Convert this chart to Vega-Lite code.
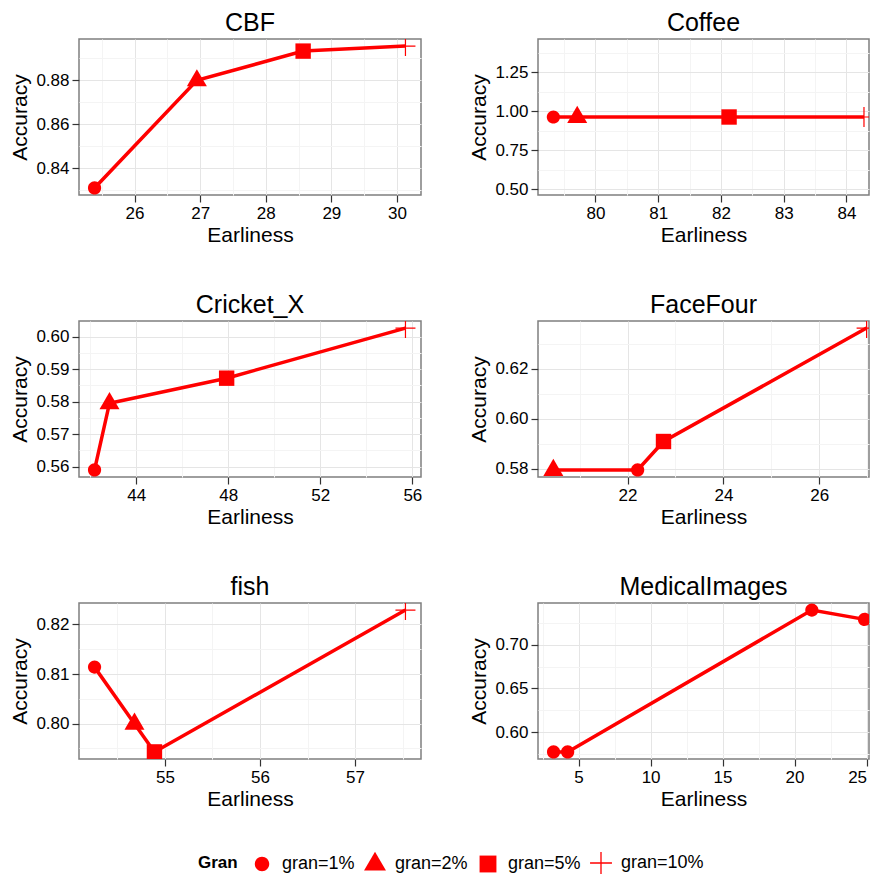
{
  "$schema": "https://vega.github.io/schema/vega-lite/v6.json",
  "background": "white",
  "padding": {"left": 9, "top": 10, "right": 0, "bottom": 0},
  "data": {"values": [
    {"dataset": "CBF", "Gran": "gran=1%", "Earliness": 25.39, "Accuracy": 0.8311},
    {"dataset": "CBF", "Gran": "gran=2%", "Earliness": 26.95, "Accuracy": 0.88},
    {"dataset": "CBF", "Gran": "gran=5%", "Earliness": 28.57, "Accuracy": 0.8933},
    {"dataset": "CBF", "Gran": "gran=10%", "Earliness": 30.13, "Accuracy": 0.8956},
    {"dataset": "Coffee", "Gran": "gran=1%", "Earliness": 79.33, "Accuracy": 0.9643},
    {"dataset": "Coffee", "Gran": "gran=2%", "Earliness": 79.71, "Accuracy": 0.9643},
    {"dataset": "Coffee", "Gran": "gran=5%", "Earliness": 82.13, "Accuracy": 0.9643},
    {"dataset": "Coffee", "Gran": "gran=10%", "Earliness": 84.28, "Accuracy": 0.9643},
    {"dataset": "Cricket_X", "Gran": "gran=1%", "Earliness": 42.19, "Accuracy": 0.559},
    {"dataset": "Cricket_X", "Gran": "gran=2%", "Earliness": 42.84, "Accuracy": 0.5795},
    {"dataset": "Cricket_X", "Gran": "gran=5%", "Earliness": 47.93, "Accuracy": 0.5872},
    {"dataset": "Cricket_X", "Gran": "gran=10%", "Earliness": 55.7, "Accuracy": 0.6026},
    {"dataset": "FaceFour", "Gran": "gran=1%", "Earliness": 22.21, "Accuracy": 0.5795},
    {"dataset": "FaceFour", "Gran": "gran=2%", "Earliness": 20.45, "Accuracy": 0.5795},
    {"dataset": "FaceFour", "Gran": "gran=5%", "Earliness": 22.75, "Accuracy": 0.5909},
    {"dataset": "FaceFour", "Gran": "gran=10%", "Earliness": 26.99, "Accuracy": 0.6364},
    {"dataset": "fish", "Gran": "gran=1%", "Earliness": 54.26, "Accuracy": 0.8114},
    {"dataset": "fish", "Gran": "gran=2%", "Earliness": 54.68, "Accuracy": 0.8},
    {"dataset": "fish", "Gran": "gran=5%", "Earliness": 54.89, "Accuracy": 0.7943},
    {"dataset": "fish", "Gran": "gran=10%", "Earliness": 57.53, "Accuracy": 0.8229},
    {"dataset": "MedicalImages", "Gran": "gran=1%", "Earliness": 3.26, "Accuracy": 0.5776},
    {"dataset": "MedicalImages", "Gran": "gran=1%", "Earliness": 4.24, "Accuracy": 0.5776},
    {"dataset": "MedicalImages", "Gran": "gran=1%", "Earliness": 21.2, "Accuracy": 0.7395},
    {"dataset": "MedicalImages", "Gran": "gran=1%", "Earliness": 24.86, "Accuracy": 0.7289}
  ]},
  "config": {
    "font": "Liberation Sans",
    "view": {"stroke": "#7F7F7F", "strokeWidth": 1.5},
    "title": {"fontSize": 25, "fontWeight": "normal", "color": "black", "offset": 3},
    "axis": {"domain": false, "tickColor": "#333333", "tickSize": 7, "tickWidth": 1.2, "labelFontSize": 17, "labelColor": "black", "titleFontSize": 21, "titleFontWeight": "normal", "titleColor": "black", "labelPadding": 3, "gridWidth": 1},
    "axisX": {"titlePadding": 3},
    "axisY": {"titlePadding": 5},
    "legend": {"padding": 0}
  },
  "columns": 2,
  "bounds": "flush",
  "spacing": {"row": 126, "column": 117},
  "resolve": {"scale": {"x": "independent", "y": "independent"}},
  "concat": [
    {
      "title": "CBF", "width": 342, "height": 156,
      "transform": [{"filter": "datum.dataset === 'CBF'"}],
      "encoding": {
        "x": {"field": "Earliness", "type": "quantitative", "scale": {"domain": [25.153, 30.367], "nice": false, "zero": false},
          "axis": {"title": "Earliness", "format": ".0f", "values": [25.5,26,26.5,27,27.5,28,28.5,29,29.5,30],
            "labelExpr": "indexof([26,27,28,29,30], datum.value) >= 0 ? datum.label : ''",
            "gridColor": {"condition": {"test": "indexof([26,27,28,29,30], datum.value) < 0", "value": "#F4F4F4"}, "value": "#E5E5E5"},
            "tickOpacity": {"condition": {"test": "indexof([26,27,28,29,30], datum.value) < 0", "value": 0}, "value": 1}}},
        "y": {"field": "Accuracy", "type": "quantitative", "scale": {"domain": [0.8279, 0.8988], "nice": false, "zero": false},
          "axis": {"title": "Accuracy", "format": ".2f", "values": [0.83,0.84,0.85,0.86,0.87,0.88,0.89],
            "labelExpr": "indexof([0.84,0.86,0.88], datum.value) >= 0 ? datum.label : ''",
            "gridColor": {"condition": {"test": "indexof([0.84,0.86,0.88], datum.value) < 0", "value": "#F4F4F4"}, "value": "#E5E5E5"},
            "tickOpacity": {"condition": {"test": "indexof([0.84,0.86,0.88], datum.value) < 0", "value": 0}, "value": 1}}}
      },
      "layer": [
        {"mark": {"type": "line", "color": "#FF0000", "strokeWidth": 3.5, "clip": true}},
        {"mark": {"type": "point", "filled": true, "color": "#FF0000", "strokeWidth": 0, "size": 400, "opacity": 1, "clip": true},
         "encoding": {"shape": {"field": "Gran", "type": "nominal",
           "scale": {"domain": ["gran=1%","gran=2%","gran=5%","gran=10%"], "range": ["M0.66,0A0.66,0.66,0,1,1,-0.66,0A0.66,0.66,0,1,1,0.66,0Z","M0,-1.12L1,0.6L-1,0.6Z","M-0.77,-0.77H0.77V0.77H-0.77Z","M-1,-0.06H1V0.06H-1ZM-0.06,-1H0.06V1H-0.06Z"]},
           "legend": {"title": "Gran", "orient": "none", "legendX": 119, "legendY": 813, "direction": "horizontal", "titleOrient": "left", "titleFontWeight": "bold", "titleFontSize": 17, "titleColor": "black", "labelFontSize": 18, "labelColor": "black", "symbolSize": 480, "symbolFillColor": "#FF0000", "symbolStrokeWidth": 0, "labelOffset": 9, "columnPadding": 9, "titlePadding": 13}}}}
      ]
    },
    {
      "title": "Coffee", "width": 331, "height": 156,
      "transform": [{"filter": "datum.dataset === 'Coffee'"}],
      "encoding": {
        "x": {"field": "Earliness", "type": "quantitative", "scale": {"domain": [79.085, 84.36], "nice": false, "zero": false},
          "axis": {"title": "Earliness", "format": ".0f", "values": [79.5,80,80.5,81,81.5,82,82.5,83,83.5,84],
            "labelExpr": "indexof([80,81,82,83,84], datum.value) >= 0 ? datum.label : ''",
            "gridColor": {"condition": {"test": "indexof([80,81,82,83,84], datum.value) < 0", "value": "#F4F4F4"}, "value": "#E5E5E5"},
            "tickOpacity": {"condition": {"test": "indexof([80,81,82,83,84], datum.value) < 0", "value": 0}, "value": 1}}},
        "y": {"field": "Accuracy", "type": "quantitative", "scale": {"domain": [0.4643, 1.4643], "nice": false, "zero": false},
          "axis": {"title": "Accuracy", "format": ".2f", "values": [0.5,0.625,0.75,0.875,1,1.125,1.25,1.375],
            "labelExpr": "indexof([0.5,0.75,1,1.25], datum.value) >= 0 ? datum.label : ''",
            "gridColor": {"condition": {"test": "indexof([0.5,0.75,1,1.25], datum.value) < 0", "value": "#F4F4F4"}, "value": "#E5E5E5"},
            "tickOpacity": {"condition": {"test": "indexof([0.5,0.75,1,1.25], datum.value) < 0", "value": 0}, "value": 1}}}
      },
      "layer": [
        {"mark": {"type": "line", "color": "#FF0000", "strokeWidth": 3.5, "clip": true}},
        {"mark": {"type": "point", "filled": true, "color": "#FF0000", "strokeWidth": 0, "size": 400, "opacity": 1, "clip": true},
         "encoding": {"shape": {"field": "Gran", "type": "nominal",
           "scale": {"domain": ["gran=1%","gran=2%","gran=5%","gran=10%"], "range": ["M0.66,0A0.66,0.66,0,1,1,-0.66,0A0.66,0.66,0,1,1,0.66,0Z","M0,-1.12L1,0.6L-1,0.6Z","M-0.77,-0.77H0.77V0.77H-0.77Z","M-1,-0.06H1V0.06H-1ZM-0.06,-1H0.06V1H-0.06Z"]},
           "legend": {"title": "Gran", "orient": "none", "legendX": 119, "legendY": 813, "direction": "horizontal", "titleOrient": "left", "titleFontWeight": "bold", "titleFontSize": 17, "titleColor": "black", "labelFontSize": 18, "labelColor": "black", "symbolSize": 480, "symbolFillColor": "#FF0000", "symbolStrokeWidth": 0, "labelOffset": 9, "columnPadding": 9, "titlePadding": 13}}}}
      ]
    },
    {
      "title": "Cricket_X", "width": 342, "height": 156,
      "transform": [{"filter": "datum.dataset === 'Cricket_X'"}],
      "encoding": {
        "x": {"field": "Earliness", "type": "quantitative", "scale": {"domain": [41.515, 56.375], "nice": false, "zero": false},
          "axis": {"title": "Earliness", "format": ".0f", "values": [42,44,46,48,50,52,54,56],
            "labelExpr": "indexof([44,48,52,56], datum.value) >= 0 ? datum.label : ''",
            "gridColor": {"condition": {"test": "indexof([44,48,52,56], datum.value) < 0", "value": "#F4F4F4"}, "value": "#E5E5E5"},
            "tickOpacity": {"condition": {"test": "indexof([44,48,52,56], datum.value) < 0", "value": 0}, "value": 1}}},
        "y": {"field": "Accuracy", "type": "quantitative", "scale": {"domain": [0.55682, 0.60478], "nice": false, "zero": false},
          "axis": {"title": "Accuracy", "format": ".2f", "values": [0.56,0.565,0.57,0.575,0.58,0.585,0.59,0.595,0.6],
            "labelExpr": "indexof([0.56,0.57,0.58,0.59,0.6], datum.value) >= 0 ? datum.label : ''",
            "gridColor": {"condition": {"test": "indexof([0.56,0.57,0.58,0.59,0.6], datum.value) < 0", "value": "#F4F4F4"}, "value": "#E5E5E5"},
            "tickOpacity": {"condition": {"test": "indexof([0.56,0.57,0.58,0.59,0.6], datum.value) < 0", "value": 0}, "value": 1}}}
      },
      "layer": [
        {"mark": {"type": "line", "color": "#FF0000", "strokeWidth": 3.5, "clip": true}},
        {"mark": {"type": "point", "filled": true, "color": "#FF0000", "strokeWidth": 0, "size": 400, "opacity": 1, "clip": true},
         "encoding": {"shape": {"field": "Gran", "type": "nominal",
           "scale": {"domain": ["gran=1%","gran=2%","gran=5%","gran=10%"], "range": ["M0.66,0A0.66,0.66,0,1,1,-0.66,0A0.66,0.66,0,1,1,0.66,0Z","M0,-1.12L1,0.6L-1,0.6Z","M-0.77,-0.77H0.77V0.77H-0.77Z","M-1,-0.06H1V0.06H-1ZM-0.06,-1H0.06V1H-0.06Z"]},
           "legend": {"title": "Gran", "orient": "none", "legendX": 119, "legendY": 813, "direction": "horizontal", "titleOrient": "left", "titleFontWeight": "bold", "titleFontSize": 17, "titleColor": "black", "labelFontSize": 18, "labelColor": "black", "symbolSize": 480, "symbolFillColor": "#FF0000", "symbolStrokeWidth": 0, "labelOffset": 9, "columnPadding": 9, "titlePadding": 13}}}}
      ]
    },
    {
      "title": "FaceFour", "width": 331, "height": 156,
      "transform": [{"filter": "datum.dataset === 'FaceFour'"}],
      "encoding": {
        "x": {"field": "Earliness", "type": "quantitative", "scale": {"domain": [20.13, 27.04], "nice": false, "zero": false},
          "axis": {"title": "Earliness", "format": ".0f", "values": [21,22,23,24,25,26,27],
            "labelExpr": "indexof([22,24,26], datum.value) >= 0 ? datum.label : ''",
            "gridColor": {"condition": {"test": "indexof([22,24,26], datum.value) < 0", "value": "#F4F4F4"}, "value": "#E5E5E5"},
            "tickOpacity": {"condition": {"test": "indexof([22,24,26], datum.value) < 0", "value": 0}, "value": 1}}},
        "y": {"field": "Accuracy", "type": "quantitative", "scale": {"domain": [0.57666, 0.63924], "nice": false, "zero": false},
          "axis": {"title": "Accuracy", "format": ".2f", "values": [0.58,0.59,0.6,0.61,0.62,0.63],
            "labelExpr": "indexof([0.58,0.6,0.62], datum.value) >= 0 ? datum.label : ''",
            "gridColor": {"condition": {"test": "indexof([0.58,0.6,0.62], datum.value) < 0", "value": "#F4F4F4"}, "value": "#E5E5E5"},
            "tickOpacity": {"condition": {"test": "indexof([0.58,0.6,0.62], datum.value) < 0", "value": 0}, "value": 1}}}
      },
      "layer": [
        {"mark": {"type": "line", "color": "#FF0000", "strokeWidth": 3.5, "clip": true}},
        {"mark": {"type": "point", "filled": true, "color": "#FF0000", "strokeWidth": 0, "size": 400, "opacity": 1, "clip": true},
         "encoding": {"shape": {"field": "Gran", "type": "nominal",
           "scale": {"domain": ["gran=1%","gran=2%","gran=5%","gran=10%"], "range": ["M0.66,0A0.66,0.66,0,1,1,-0.66,0A0.66,0.66,0,1,1,0.66,0Z","M0,-1.12L1,0.6L-1,0.6Z","M-0.77,-0.77H0.77V0.77H-0.77Z","M-1,-0.06H1V0.06H-1ZM-0.06,-1H0.06V1H-0.06Z"]},
           "legend": {"title": "Gran", "orient": "none", "legendX": 119, "legendY": 813, "direction": "horizontal", "titleOrient": "left", "titleFontWeight": "bold", "titleFontSize": 17, "titleColor": "black", "labelFontSize": 18, "labelColor": "black", "symbolSize": 480, "symbolFillColor": "#FF0000", "symbolStrokeWidth": 0, "labelOffset": 9, "columnPadding": 9, "titlePadding": 13}}}}
      ]
    },
    {
      "title": "fish", "width": 342, "height": 156,
      "transform": [{"filter": "datum.dataset === 'fish'"}],
      "encoding": {
        "x": {"field": "Earliness", "type": "quantitative", "scale": {"domain": [54.0965, 57.6935], "nice": false, "zero": false},
          "axis": {"title": "Earliness", "format": ".0f", "values": [54.5,55,55.5,56,56.5,57,57.5],
            "labelExpr": "indexof([55,56,57], datum.value) >= 0 ? datum.label : ''",
            "gridColor": {"condition": {"test": "indexof([55,56,57], datum.value) < 0", "value": "#F4F4F4"}, "value": "#E5E5E5"},
            "tickOpacity": {"condition": {"test": "indexof([55,56,57], datum.value) < 0", "value": 0}, "value": 1}}},
        "y": {"field": "Accuracy", "type": "quantitative", "scale": {"domain": [0.79287, 0.82433], "nice": false, "zero": false},
          "axis": {"title": "Accuracy", "format": ".2f", "values": [0.795,0.8,0.805,0.81,0.815,0.82],
            "labelExpr": "indexof([0.8,0.81,0.82], datum.value) >= 0 ? datum.label : ''",
            "gridColor": {"condition": {"test": "indexof([0.8,0.81,0.82], datum.value) < 0", "value": "#F4F4F4"}, "value": "#E5E5E5"},
            "tickOpacity": {"condition": {"test": "indexof([0.8,0.81,0.82], datum.value) < 0", "value": 0}, "value": 1}}}
      },
      "layer": [
        {"mark": {"type": "line", "color": "#FF0000", "strokeWidth": 3.5, "clip": true}},
        {"mark": {"type": "point", "filled": true, "color": "#FF0000", "strokeWidth": 0, "size": 400, "opacity": 1, "clip": true},
         "encoding": {"shape": {"field": "Gran", "type": "nominal",
           "scale": {"domain": ["gran=1%","gran=2%","gran=5%","gran=10%"], "range": ["M0.66,0A0.66,0.66,0,1,1,-0.66,0A0.66,0.66,0,1,1,0.66,0Z","M0,-1.12L1,0.6L-1,0.6Z","M-0.77,-0.77H0.77V0.77H-0.77Z","M-1,-0.06H1V0.06H-1ZM-0.06,-1H0.06V1H-0.06Z"]},
           "legend": {"title": "Gran", "orient": "none", "legendX": 119, "legendY": 813, "direction": "horizontal", "titleOrient": "left", "titleFontWeight": "bold", "titleFontSize": 17, "titleColor": "black", "labelFontSize": 18, "labelColor": "black", "symbolSize": 480, "symbolFillColor": "#FF0000", "symbolStrokeWidth": 0, "labelOffset": 9, "columnPadding": 9, "titlePadding": 13}}}}
      ]
    },
    {
      "title": "MedicalImages", "width": 331, "height": 156,
      "transform": [{"filter": "datum.dataset === 'MedicalImages'"}],
      "encoding": {
        "x": {"field": "Earliness", "type": "quantitative", "scale": {"domain": [2.18, 25.17], "nice": false, "zero": false},
          "axis": {"title": "Earliness", "format": ".0f", "labelFlush": 5, "values": [2.5,5,7.5,10,12.5,15,17.5,20,22.5,25],
            "labelExpr": "indexof([5,10,15,20,25], datum.value) >= 0 ? datum.label : ''",
            "gridColor": {"condition": {"test": "indexof([5,10,15,20,25], datum.value) < 0", "value": "#F4F4F4"}, "value": "#E5E5E5"},
            "tickOpacity": {"condition": {"test": "indexof([5,10,15,20,25], datum.value) < 0", "value": 0}, "value": 1}}},
        "y": {"field": "Accuracy", "type": "quantitative", "scale": {"domain": [0.5695, 0.7476], "nice": false, "zero": false},
          "axis": {"title": "Accuracy", "format": ".2f", "values": [0.575,0.6,0.625,0.65,0.675,0.7,0.725],
            "labelExpr": "indexof([0.6,0.65,0.7], datum.value) >= 0 ? datum.label : ''",
            "gridColor": {"condition": {"test": "indexof([0.6,0.65,0.7], datum.value) < 0", "value": "#F4F4F4"}, "value": "#E5E5E5"},
            "tickOpacity": {"condition": {"test": "indexof([0.6,0.65,0.7], datum.value) < 0", "value": 0}, "value": 1}}}
      },
      "layer": [
        {"mark": {"type": "line", "color": "#FF0000", "strokeWidth": 3.5, "clip": true}},
        {"mark": {"type": "point", "filled": true, "color": "#FF0000", "strokeWidth": 0, "size": 400, "opacity": 1, "clip": true},
         "encoding": {"shape": {"field": "Gran", "type": "nominal",
           "scale": {"domain": ["gran=1%","gran=2%","gran=5%","gran=10%"], "range": ["M0.66,0A0.66,0.66,0,1,1,-0.66,0A0.66,0.66,0,1,1,0.66,0Z","M0,-1.12L1,0.6L-1,0.6Z","M-0.77,-0.77H0.77V0.77H-0.77Z","M-1,-0.06H1V0.06H-1ZM-0.06,-1H0.06V1H-0.06Z"]},
           "legend": {"title": "Gran", "orient": "none", "legendX": 119, "legendY": 813, "direction": "horizontal", "titleOrient": "left", "titleFontWeight": "bold", "titleFontSize": 17, "titleColor": "black", "labelFontSize": 18, "labelColor": "black", "symbolSize": 480, "symbolFillColor": "#FF0000", "symbolStrokeWidth": 0, "labelOffset": 9, "columnPadding": 9, "titlePadding": 13}}}}
      ]
    }
  ]
}
